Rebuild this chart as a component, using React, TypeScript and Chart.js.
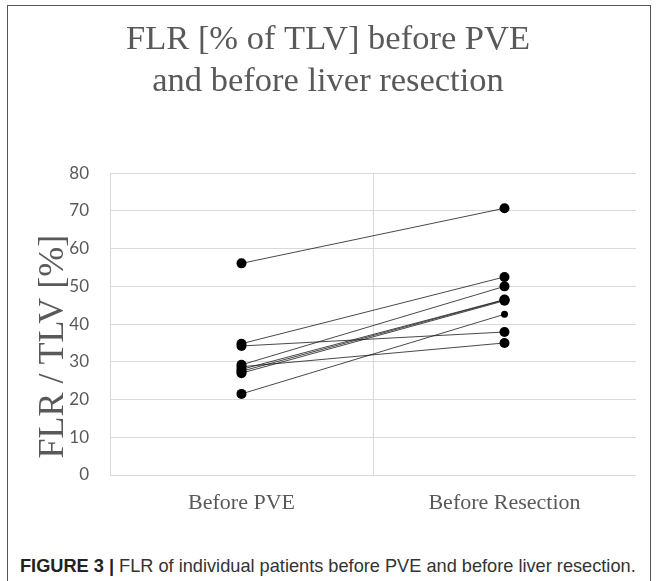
import React, { useEffect, useRef } from "react";
import { Chart, registerables } from "chart.js";

Chart.register(...registerables);

const categories = ["Before PVE", "Before Resection"];
const beforePVE = [56.1, 34.8, 34.2, 29.2, 28.0, 27.5, 27.0, 28.7, 21.5];
const beforeResection = [70.7, 52.5, 37.9, 50.0, 46.5, 46.4, 46.2, 35.0, 42.6];
const rightPointRadius = [5, 5, 5, 5, 5, 5, 5, 5, 3.5];
const yTicks = { min: 0, max: 80, step: 10 };
const titleLines = ["FLR [% of TLV] before PVE", "and before liver resection"];
const yAxisTitle = "FLR / TLV [%]";

export default function App() {
  const ref = useRef<HTMLCanvasElement>(null);

  useEffect(() => {
    if (!ref.current) return;
    const datasets = beforePVE.map((v, i) => ({
      label: "Patient " + (i + 1),
      data: [v, beforeResection[i]],
      borderColor: "#1a1a1a",
      borderWidth: 0.8,
      pointRadius: [5, rightPointRadius[i]],
      pointBackgroundColor: "#000",
      pointBorderColor: "#000",
      pointBorderWidth: 0,
      fill: false,
      tension: 0,
    }));
    const chart = new Chart(ref.current, {
      type: "line",
      data: { labels: categories, datasets },
      options: {
        animation: false,
        responsive: false,
        layout: { padding: { left: 20, right: 21, top: 0, bottom: 0 } },
        plugins: {
          legend: { display: false },
          tooltip: { enabled: false },
          title: {
            display: true,
            text: titleLines,
            color: "#595959",
            font: { family: "Liberation Serif", size: 34.5, weight: "normal", lineHeight: 1.22 },
            padding: { top: 19, bottom: 70 },
          },
        },
        scales: {
          x: {
            offset: true,
            afterFit: (s: any) => { s.height = 65; },
            grid: {
              offset: true,
              drawTicks: false,
              color: (ctx: any) => (ctx.type === "tick" ? "#d9d9d9" : "rgba(0,0,0,0)"),
              lineWidth: 1,
            },
            border: { display: false },
            ticks: {
              padding: 15,
              color: "#595959",
              font: { family: "Liberation Serif", size: 22 },
            },
          },
          y: {
            min: yTicks.min,
            max: yTicks.max,
            afterFit: (s: any) => { s.width = 90; },
            grid: { color: "#d9d9d9", drawTicks: false, lineWidth: 1 },
            border: { display: false },
            ticks: {
              stepSize: yTicks.step,
              padding: 21,
              color: "#595959",
              font: { family: "Lato", size: 17 },
            },
            title: {
              display: true,
              text: yAxisTitle + "\u00a0\u00a0\u00a0\u00a0\u00a0",
              color: "#595959",
              font: { family: "Liberation Serif", size: 36, weight: "normal", lineHeight: 1.2 },
              padding: { top: 12, bottom: 0 },
            },
          },
        },
      },
    });
    return () => chart.destroy();
  }, []);

  return (
    <div style={{ position: "fixed", left: 0, top: 0, width: 657, height: 581, overflow: "hidden", background: "#fff" }}>
      <div style={{ position: "absolute", left: 7, top: 5, width: 644, height: 640, border: "1px solid #555", boxSizing: "border-box" }} />
      <canvas ref={ref} width={657} height={540} style={{ position: "absolute", left: 0, top: 0, width: 657, height: 540 }} />
      <div style={{ position: "absolute", left: 20, top: 555, fontFamily: "Liberation Sans", fontSize: 18.2, color: "#333", whiteSpace: "nowrap", lineHeight: "22px" }}>
        <b style={{ color: "#222" }}>FIGURE 3 |</b> FLR of individual patients before PVE and before liver resection.
      </div>
    </div>
  );
}
